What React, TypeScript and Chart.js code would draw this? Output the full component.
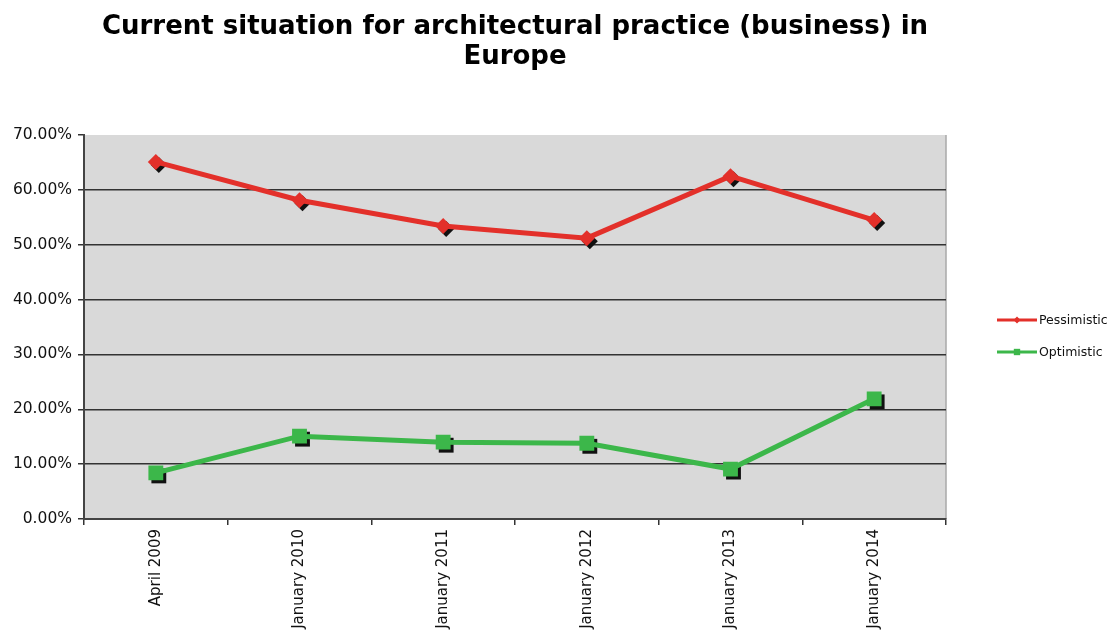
import React, { useEffect, useRef } from "react";
import { Chart, registerables } from "chart.js";

Chart.register(...registerables);

const titleLines = ["Current situation for architectural practice (business) in", "Europe"];
const categories = ["April 2009", "January 2010", "January 2011", "January 2012", "January 2013", "January 2014"];
const pessimistic = [65.1, 58.1, 53.4, 51.2, 62.5, 54.5];
const optimistic = [8.4, 15.1, 14.0, 13.8, 9.1, 21.9];
const seriesNames = ["Pessimistic", "Optimistic"];
const yMin = 0;
const yMax = 70;
const yStep = 10;

const RED = "#e3302a";
const GREEN = "#3cb74a";
const FONT = "'DejaVu Sans', Verdana, sans-serif";

function drawMarker(ctx: CanvasRenderingContext2D, style: string, x: number, y: number, r: number) {
  ctx.beginPath();
  if (style === "rectRot") {
    ctx.moveTo(x, y - r);
    ctx.lineTo(x + r, y);
    ctx.lineTo(x, y + r);
    ctx.lineTo(x - r, y);
  } else {
    const h = r * Math.SQRT1_2;
    ctx.rect(x - h, y - h, 2 * h, 2 * h);
  }
  ctx.closePath();
  ctx.fill();
}

const bgPlugin = {
  id: "plotBg",
  beforeDraw(chart: any) {
    const { ctx, chartArea } = chart;
    ctx.save();
    ctx.fillStyle = "#d9d9d9";
    ctx.fillRect(chartArea.left, chartArea.top, chartArea.right - chartArea.left, chartArea.bottom - chartArea.top);
    ctx.strokeStyle = "#a8a8a8";
    ctx.lineWidth = 1.5;
    ctx.beginPath();
    ctx.moveTo(chartArea.right, chartArea.top);
    ctx.lineTo(chartArea.right, chartArea.bottom);
    ctx.stroke();
    ctx.restore();
  },
};

const shadowPlugin = {
  id: "markerShadow",
  beforeDatasetsDraw(chart: any) {
    const ctx = chart.ctx;
    ctx.save();
    ctx.fillStyle = "#111";
    chart.data.datasets.forEach((ds: any, i: number) => {
      const meta = chart.getDatasetMeta(i);
      meta.data.forEach((pt: any) => {
        drawMarker(ctx, ds.pointStyle, pt.x + 3, pt.y + 3, ds.pointRadius);
      });
    });
    ctx.restore();
  },
};

const legendPlugin = {
  id: "sideLegend",
  afterDraw(chart: any) {
    const ctx = chart.ctx;
    ctx.save();
    const x0 = 997;
    const x1 = 1037;
    const ys = [320, 352];
    chart.data.datasets.forEach((ds: any, i: number) => {
      const y = ys[i];
      ctx.strokeStyle = ds.borderColor;
      ctx.lineWidth = 3;
      ctx.beginPath();
      ctx.moveTo(x0, y);
      ctx.lineTo(x1, y);
      ctx.stroke();
      ctx.fillStyle = ds.borderColor;
      drawMarker(ctx, ds.pointStyle, (x0 + x1) / 2, y, i === 0 ? 3.5 : 4.5);
      ctx.fillStyle = "#111";
      ctx.font = `12.5px ${FONT}`;
      ctx.textBaseline = "middle";
      ctx.textAlign = "left";
      ctx.fillText(ds.label, x1 + 2, y + 1);
    });
    ctx.restore();
  },
};

export default function App() {
  const ref = useRef<HTMLCanvasElement>(null);
  useEffect(() => {
    document.body.style.margin = "0";
    const chart = new Chart(ref.current!, {
      type: "line",
      data: {
        labels: categories,
        datasets: [
          {
            label: seriesNames[0],
            data: pessimistic,
            borderColor: RED,
            backgroundColor: RED,
            borderWidth: 5,
            pointStyle: "rectRot",
            pointRadius: 8,
            pointHoverRadius: 8,
            pointBackgroundColor: RED,
            pointBorderWidth: 0,
            tension: 0,
          },
          {
            label: seriesNames[1],
            data: optimistic,
            borderColor: GREEN,
            backgroundColor: GREEN,
            borderWidth: 5,
            pointStyle: "rect",
            pointRadius: 10.5,
            pointHoverRadius: 10.5,
            pointBackgroundColor: GREEN,
            pointBorderWidth: 0,
            tension: 0,
          },
        ],
      } as any,
      options: {
        animation: false,
        responsive: false,
        events: [],
        layout: { padding: { left: 0, right: 164, top: 0, bottom: 0 } },
        plugins: {
          legend: { display: false },
          tooltip: { enabled: false },
          title: {
            display: true,
            text: titleLines,
            fullSize: false,
            color: "#000",
            font: { family: FONT, size: 26, weight: "bold", lineHeight: 30 / 26 },
            padding: { top: 12, bottom: 63 },
          },
        },
        scales: {
          x: {
            type: "category",
            offset: true,
            afterFit(scale: any) {
              scale.height = 632 - 519;
            },
            grid: {
              offset: true,
              drawOnChartArea: false,
              drawTicks: true,
              tickLength: 6,
              tickColor: "#333",
              lineWidth: 1.5,
            },
            border: { display: true, color: "#444", width: 2 },
            ticks: {
              autoSkip: false,
              maxRotation: 90,
              minRotation: 90,
              padding: 4,
              color: "#111",
              font: { family: FONT, size: 15 },
            },
          },
          y: {
            min: yMin,
            max: yMax,
            afterFit(scale: any) {
              scale.width = 84;
            },
            grid: {
              color: (c: any) => (c.tick && (c.tick.value === yMax || c.tick.value === yMin) ? "rgba(0,0,0,0)" : "#333"),
              lineWidth: 1.5,
              tickColor: "#333",
              tickLength: 6,
            },
            border: { display: true, color: "#444", width: 2 },
            ticks: {
              stepSize: yStep,
              padding: 6,
              color: "#111",
              font: { family: FONT, size: 15.5 },
              callback: (v: any) => Number(v).toFixed(2) + "%",
            },
          },
        },
      },
      plugins: [bgPlugin, shadowPlugin, legendPlugin],
    } as any);
    return () => chart.destroy();
  }, []);
  return (
    <div style={{ position: "absolute", left: 0, top: 0, width: 1110, height: 632 }}>
      <canvas ref={ref} width={1110} height={632} style={{ display: "block" }} />
    </div>
  );
}
